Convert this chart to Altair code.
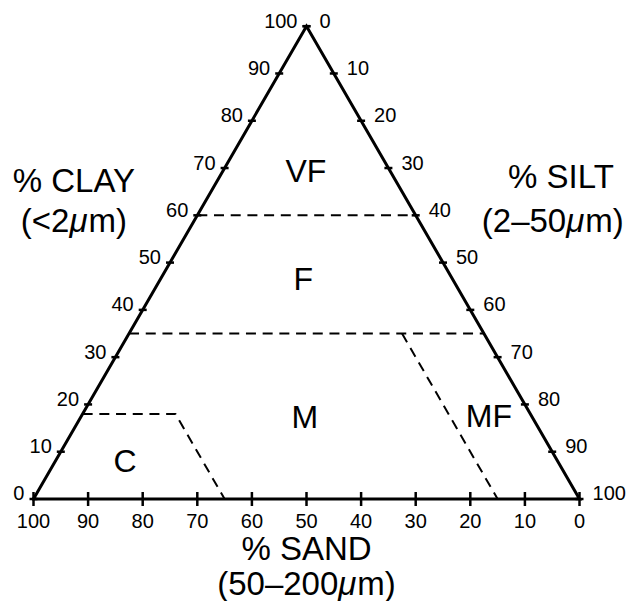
import altair as alt
import pandas as pd

# ---------------- data (ternary percentages: sand, silt, clay) ----------------
tick_values = [0, 10, 20, 30, 40, 50, 60, 70, 80, 90, 100]

outline_sand = [100, 0, 0, 100]
outline_silt = [0, 100, 0, 0]
outline_clay = [0, 0, 100, 0]

boundary_id = ["VF-F", "VF-F", "F-M", "F-M", "C-M", "C-M", "C-M", "M-MF", "M-MF"]
boundary_sand = [40, 0, 65, 0, 82, 65, 65, 15, 15]
boundary_silt = [0, 40, 0, 65, 0, 17, 35, 50, 85]
boundary_clay = [60, 60, 35, 35, 18, 18, 0, 35, 0]

region_names = ["VF", "F", "M", "MF", "C"]
region_sand = [16.6, 28.5, 42.8, 9.0, 80.4]
region_silt = [16.4, 27.3, 42.2, 75.8, 13.9]
region_clay = [67.0, 44.2, 15.0, 15.2, 5.7]

# axis titles: first line, and second line split around the italic micro sign
title_main = ["% CLAY", "% SILT", "% SAND"]
title_range_pre = ["(<2", "(2\u201350", "(50\u2013200"]
title_range_mu = ["\u03bc", "\u03bc", "\u03bc"]
title_range_post = ["m)", "m)", "m)"]
title_u1 = [7.4, 96.6, 50.0]
title_v1 = [64.9, 65.8, -12.9]
title_u2 = [7.4, 95.1, 50.0]
title_v2 = [56.5, 56.5, -20.3]

# ---------------- layout constants ----------------
W, H = 618, 593
X_DOMAIN = [-4.6703, 108.516]
Y_DOMAIN = [-21.574, 103.849]
FONT = "Liberation Sans"
TITLE_SIZE = 33

# Liberation Sans advance widths (em) used to place the split second title line
ADV = {"(": 0.333, ")": 0.333, "<": 0.584, "\u2013": 0.556, "m": 0.833, "\u03bc": 0.576}
for d in "0123456789":
    ADV[d] = 0.556


def text_width(s):
    return sum(ADV.get(c, 0.556) for c in s) * TITLE_SIZE


xs = alt.Scale(domain=X_DOMAIN, nice=False, zero=False)
ys = alt.Scale(domain=Y_DOMAIN, nice=False, zero=False)
X = alt.X("u:Q", scale=xs, axis=None)
Y = alt.Y("v:Q", scale=ys, axis=None)

U_EXPR = "datum.silt + datum.clay / 2"
V_EXPR = "datum.clay"

outline_df = pd.DataFrame({"sand": outline_sand, "silt": outline_silt,
                           "clay": outline_clay, "k": range(len(outline_sand))})
bound_df = pd.DataFrame({"id": boundary_id, "sand": boundary_sand,
                         "silt": boundary_silt, "clay": boundary_clay,
                         "k": range(len(boundary_id))})
bottom_df = pd.DataFrame({"sand": tick_values, "silt": [100 - t for t in tick_values],
                          "clay": [0] * len(tick_values), "label": tick_values})
left_df = pd.DataFrame({"sand": [100 - t for t in tick_values], "silt": [0] * len(tick_values),
                        "clay": tick_values, "label": tick_values})
right_df = pd.DataFrame({"sand": [0] * len(tick_values), "silt": tick_values,
                         "clay": [100 - t for t in tick_values], "label": tick_values})
region_df = pd.DataFrame({"name": region_names, "sand": region_sand,
                          "silt": region_silt, "clay": region_clay})


def tern(df):
    return alt.Chart(df).transform_calculate(u=U_EXPR, v=V_EXPR)


outline = tern(outline_df).mark_line(color="black", strokeWidth=3, strokeJoin="miter",
                                     strokeCap="square").encode(x=X, y=Y, order="k:Q")

bounds = tern(bound_df).mark_line(color="black", strokeWidth=2, strokeDash=[10, 6.7]).encode(
    x=X, y=Y, detail="id:N", order="k:Q")

bottom_ticks = tern(bottom_df).mark_tick(orient="vertical", size=14, thickness=2.5,
                                         color="black", opacity=1).encode(x=X, y=Y)
left_ticks = tern(left_df).mark_tick(orient="horizontal", size=8, thickness=2.5,
                                     color="black", opacity=1).encode(x=X, y=Y)
right_ticks = tern(right_df).mark_tick(orient="horizontal", size=8, thickness=2.5,
                                       color="black", opacity=1).encode(x=X, y=Y)

tick_font = dict(font=FONT, fontSize=20, color="black", baseline="alphabetic")
bottom_labels = tern(bottom_df).mark_text(align="center", dy=29, **tick_font).encode(
    x=X, y=Y, text="label:Q")
left_labels = tern(left_df).mark_text(align="right", dx=-9, dy=1.5, **tick_font).encode(
    x=X, y=Y, text="label:Q")
right_labels = tern(right_df).mark_text(align="left", dx=13, dy=1.5, **tick_font).encode(
    x=X, y=Y, text="label:Q")

regions = tern(region_df).mark_text(font=FONT, fontSize=32, color="black", align="center",
                                    baseline="alphabetic").encode(x=X, y=Y, text="name:N")

title_font = dict(font=FONT, fontSize=TITLE_SIZE, color="black", baseline="alphabetic")
title_layers = []
main_df = pd.DataFrame({"text": title_main, "u": title_u1, "v": title_v1})
title_layers.append(alt.Chart(main_df).mark_text(align="center", **title_font).encode(
    x=X, y=Y, text="text:N"))
for i in range(len(title_main)):
    pre, mu, post = title_range_pre[i], title_range_mu[i], title_range_post[i]
    wp, wm, wq = text_width(pre), text_width(mu), text_width(post)
    start = -(wp + wm + wq) / 2
    row = pd.DataFrame({"pre": [pre], "mu": [mu], "post": [post],
                        "u": [title_u2[i]], "v": [title_v2[i]]})
    base = alt.Chart(row)
    title_layers.append(base.mark_text(align="left", dx=start, **title_font).encode(
        x=X, y=Y, text="pre:N"))
    title_layers.append(base.mark_text(align="left", dx=start + wp, fontStyle="italic",
                                       **title_font).encode(x=X, y=Y, text="mu:N"))
    title_layers.append(base.mark_text(align="left", dx=start + wp + wm, **title_font).encode(
        x=X, y=Y, text="post:N"))

chart = alt.layer(
    bounds, outline, bottom_ticks, left_ticks, right_ticks,
    bottom_labels, left_labels, right_labels, regions, *title_layers
).properties(
    width=W, height=H, autosize="none", padding=0
).configure_view(stroke=None)

chart.save("out.html", embed_options={"renderer": "svg", "actions": False})
